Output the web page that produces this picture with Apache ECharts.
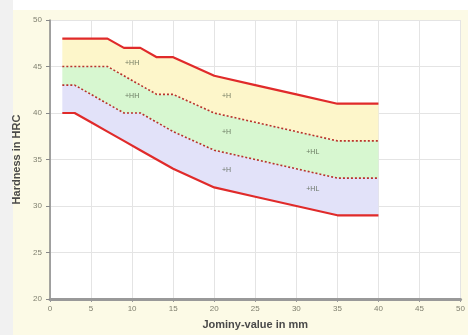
<!DOCTYPE html>
<html>
<head>
<meta charset="utf-8">
<script src="https://cdn.jsdelivr.net/npm/echarts@6/dist/echarts.min.js"></script>
<style>
  html, body { margin: 0; padding: 0; background: #ffffff; }
  #chart { width: 468px; height: 335px; }
</style>
</head>
<body>
<div id="chart"></div>
<script>
// Jominy distances (mm)
const distances = [1.5, 3, 5, 7, 9, 11, 13, 15, 20, 25, 30, 35, 40];
// Scatter band limits (HRC)
const maxHH = [48, 48, 48, 48, 47, 47, 46, 46, 44, 43, 42, 41, 41];
const upperThird = [45, 45, 45, 45, 44, 43, 42, 42, 40, 39, 38, 37, 37];
const lowerThird = [43, 43, 42, 41, 40, 40, 39, 38, 36, 35, 34, 33, 33];
const minHL = [40, 40, 39, 38, 37, 36, 35, 34, 32, 31, 30, 29, 29];
// Band annotations: [distance, hardness, text]
const bandLabels = [
  [10, 45.4, '+HH'],
  [10, 41.8, '+HH'],
  [21.5, 41.8, '+H'],
  [21.5, 38, '+H'],
  [21.5, 33.9, '+H'],
  [32, 35.8, '+HL'],
  [32, 31.8, '+HL']
];
const xTicks = [0, 50, 5];
const yTicks = [20, 50, 5];

const pts = arr => distances.map((d, i) => [d, arr[i]]);

// Filled bands between two limit curves: [upper, lower, fill]
const bands = [
  [lowerThird, minHL, '#e2e2f9'],
  [upperThird, lowerThird, '#d7f7d0'],
  [maxHH, upperThird, '#fdf6ca']
];

const chart = echarts.init(document.getElementById('chart'), null, { renderer: 'canvas' });

const boundary = (name, arr, dashed) => ({
  name, type: 'line', data: pts(arr), symbol: 'none', silent: true,
  lineStyle: dashed
    ? { color: '#b8332c', width: 1.6, type: [2, 2] }
    : { color: '#e02a2a', width: 2.2 },
  z: 3
});

chart.setOption({
  animation: false,
  backgroundColor: '#ffffff',
  graphic: [
    { type: 'rect', shape: { x: 13, y: 10, width: 455, height: 325 }, style: { fill: '#fcfae6' }, z: -10 },
    { type: 'rect', shape: { x: 0, y: 0, width: 13, height: 335 }, style: { fill: '#f1f1f1' }, z: -10 }
  ],
  grid: {
    left: 50, right: 2, top: 20, bottom: 36,
    show: true, backgroundColor: '#ffffff', borderWidth: 0
  },
  xAxis: {
    type: 'value', min: xTicks[0], max: xTicks[1], interval: xTicks[2],
    name: 'Jominy-value in mm', nameLocation: 'middle', nameGap: 20,
    nameTextStyle: { fontFamily: 'Liberation Sans', fontSize: 11, fontWeight: 'bold', color: '#4a4a4a' },
    axisLine: { lineStyle: { color: '#999', width: 3 } },
    axisTick: { show: true, length: 3, lineStyle: { color: '#999' } },
    axisLabel: { fontFamily: 'Liberation Sans', fontSize: 8, color: '#808070', margin: 6 },
    splitLine: { show: true, lineStyle: { color: '#e4e4e4', width: 1 } }
  },
  yAxis: {
    type: 'value', min: yTicks[0], max: yTicks[1], interval: yTicks[2],
    name: 'Hardness in HRC', nameLocation: 'middle', nameGap: 27, nameRotate: 90,
    nameTextStyle: { fontFamily: 'Liberation Sans', fontSize: 11, fontWeight: 'bold', color: '#4a4a4a' },
    axisLine: { show: true, lineStyle: { color: '#888', width: 1.5 } },
    axisTick: { show: true, length: 4, lineStyle: { color: '#888' } },
    axisLabel: { fontFamily: 'Liberation Sans', fontSize: 8, color: '#808070', margin: 8 },
    splitLine: { show: true, lineStyle: { color: '#e4e4e4', width: 1 } }
  },
  series: [
    {
      name: 'bands', type: 'custom', silent: true, z: 1,
      data: bands.map((b, i) => [i]),
      renderItem: (params, api) => {
        const [upper, lower, fill] = bands[params.dataIndex];
        const top = distances.map((d, i) => api.coord([d, upper[i]]));
        const bottom = distances.map((d, i) => api.coord([d, lower[i]])).reverse();
        return {
          type: 'polygon',
          shape: { points: top.concat(bottom) },
          style: { fill: fill, stroke: null }
        };
      }
    },
    boundary('max', maxHH, false),
    boundary('upperThird', upperThird, true),
    boundary('lowerThird', lowerThird, true),
    boundary('min', minHL, false),
    {
      name: 'labels', type: 'scatter', symbolSize: 0, silent: true, z: 4,
      data: bandLabels.map(l => ({ value: [l[0], l[1]], name: l[2] })),
      label: {
        show: true, position: 'inside', formatter: p => p.name,
        fontFamily: 'Liberation Sans', fontSize: 7, color: '#4d5a45'
      }
    }
  ]
});
</script>
</body>
</html>
